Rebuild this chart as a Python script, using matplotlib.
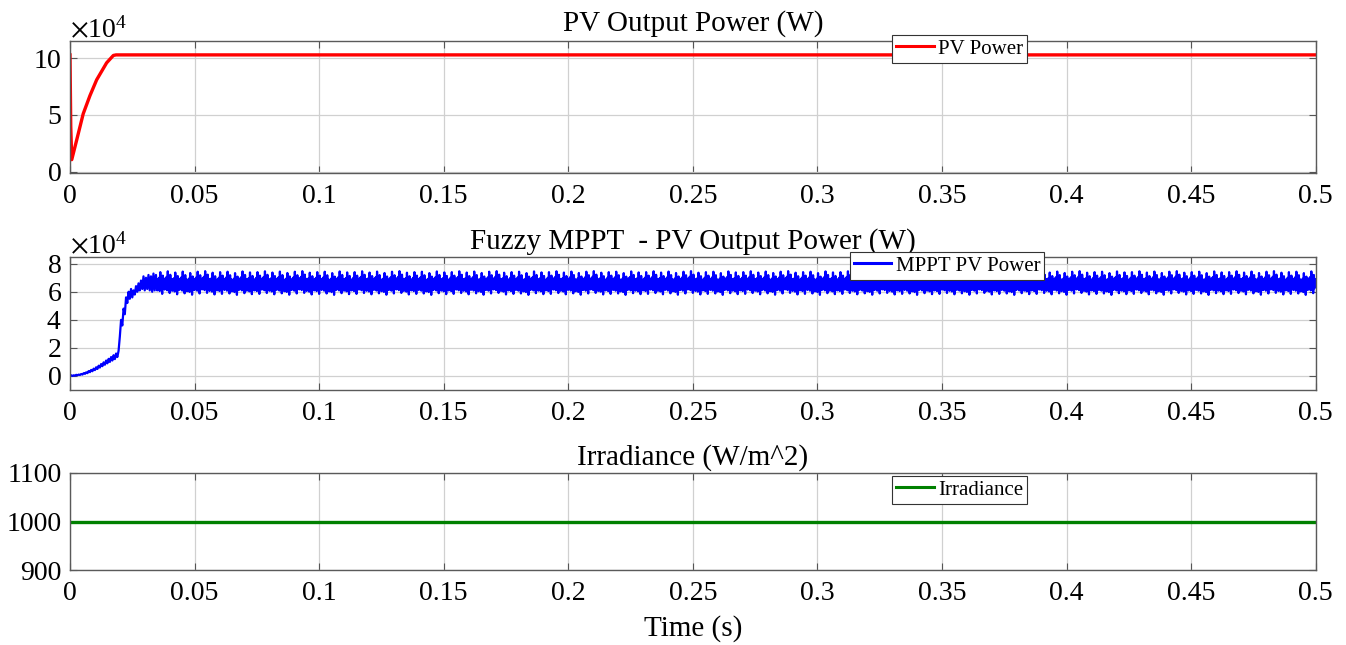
import numpy as np
import matplotlib
matplotlib.use("Agg")
import matplotlib.pyplot as plt
from matplotlib.ticker import ScalarFormatter

plt.rcParams["font.family"] = ["Liberation Serif", "DejaVu Serif"]
plt.rcParams["mathtext.fontset"] = "stix"

# ---- data ------------------------------------------------------------------
# PV output power (W), start-up transient then flat
pv_time = [0.0, 0.0003, 0.0007, 0.0027, 0.0053, 0.0080, 0.0107, 0.0147, 0.0174, 0.0185, 0.5]
pv_power = [103000, 40000, 10500, 28000, 51000, 67000, 81000, 96000, 102500, 103000, 103000]

# Fuzzy MPPT power, start-up: lower / upper edge of the ripple band each ms (W)
mppt_t0 = 0.0
mppt_dt = 0.001
mppt_low = [0, 0, 200, 500, 700, 1000, 1500, 2000, 2700, 3400, 4200, 5000,
            6000, 7000, 8000, 9000, 10000, 11000, 12000, 13500, 28000, 36000,
            44000, 52000, 55000, 56000, 58000, 60000, 61000, 62000, 61000,
            62000, 61000, 60000, 61000]
mppt_high = [500, 500, 800, 1000, 1400, 2000, 2600, 3500, 4300, 5200, 6200,
             7300, 8500, 9700, 11000, 12200, 13500, 14800, 16000, 18000, 40000,
             48000, 56000, 60000, 62000, 61000, 64000, 66000, 68000, 71000,
             70000, 72000, 71000, 73000, 72000]

# Steady state: one ripple period (3 ms, 12 samples) and period-to-period offsets (W)
ripple_t0 = 0.035
ripple_dt = 0.00025
ripple_tooth = [61000, 69000, 62000, 70000, 60500, 74000, 61500, 69500,
                58500, 71500, 62000, 68500]
ripple_offset = [0, 600, -300, 400, -600, 300, 700, -400, 0, 300,
                 -700, 500, -200]

# Irradiance (W/m^2)
irr_time = [0.0, 0.5]
irr_value = [1000, 1000]

x_ticks = [0, 0.05, 0.1, 0.15, 0.2, 0.25, 0.3, 0.35, 0.4, 0.45, 0.5]
x_labels = ["0", "0.05", "0.1", "0.15", "0.2", "0.25", "0.3", "0.35", "0.4", "0.45", "0.5"]

# ---- build the MPPT trace ----------------------------------------------------
n_start = len(mppt_low)
t_low = mppt_t0 + mppt_dt * np.arange(n_start)
t_start = np.column_stack([t_low, t_low + mppt_dt / 2]).ravel()
p_start = np.column_stack([mppt_low, mppt_high]).ravel()

n_teeth = int(round((0.5 - ripple_t0) / (len(ripple_tooth) * ripple_dt)))
offs = np.resize(ripple_offset, n_teeth)
p_ripple = (np.array(ripple_tooth)[None, :] + offs[:, None]).ravel()
t_ripple = ripple_t0 + ripple_dt * np.arange(p_ripple.size)

mppt_time = np.concatenate([t_start, t_ripple])
mppt_power = np.concatenate([p_start, p_ripple])

# ---- figure -----------------------------------------------------------------
W, H = 1346, 645
fig = plt.figure(figsize=(W / 100, H / 100), dpi=100)

def box(x0, y_top, x1, y_bot):
    return [x0 / W, 1 - y_bot / H, (x1 - x0) / W, (y_bot - y_top) / H]

ax1 = fig.add_axes(box(70, 41.3, 1315.7, 172.7))
ax2 = fig.add_axes(box(70, 256.7, 1315.7, 390.0))
ax3 = fig.add_axes(box(70, 472.7, 1315.7, 570.3))

TICK_FS = 20
TITLE_FS = 21
LEG_FS = 15

def style(ax):
    ax.set_xlim(0, 0.5)
    ax.set_xticks(x_ticks)
    ax.set_xticklabels(x_labels)
    ax.grid(True, color="#d0d0d0", linewidth=0.9)
    ax.set_axisbelow(True)
    ax.tick_params(direction="in", top=True, right=True, length=5,
                   width=0.8, colors="#555555", labelcolor="black",
                   labelsize=TICK_FS)
    ax.tick_params(axis="x", pad=8)
    ax.tick_params(axis="y", pad=6)
    for s in ax.spines.values():
        s.set_color("#5a5a5a")
        s.set_linewidth(1.0)

def sci(ax):
    fmt = ScalarFormatter(useMathText=True)
    fmt.set_powerlimits((4, 4))
    ax.yaxis.set_major_formatter(fmt)
    ax.yaxis.get_offset_text().set_fontsize(TICK_FS)

def legend(ax, anchor):
    leg = ax.legend(loc="upper left", bbox_to_anchor=anchor, fontsize=LEG_FS,
                    fancybox=False, framealpha=1, edgecolor="#333333",
                    handlelength=1.8, handletextpad=0.2, borderpad=0.2,
                    borderaxespad=0)
    leg.get_frame().set_linewidth(0.8)
    for h in leg.get_lines():
        h.set_linewidth(2.2)

# PV power
ax1.plot(pv_time, pv_power, color="#ff0000", linewidth=2.4, label="PV Power")
style(ax1)
ax1.set_ylim(-1000, 115000)
ax1.set_yticks([0, 50000, 100000])
sci(ax1)
ax1.set_title("PV Output Power (W)", fontsize=TITLE_FS, pad=8)
legend(ax1, (0.66, 1.048))

# Fuzzy MPPT power
ax2.plot(mppt_time, mppt_power, color="#0000ff", linewidth=1.6,
         label="MPPT PV Power")
style(ax2)
ax2.set_ylim(-10000, 85000)
ax2.set_yticks([0, 20000, 40000, 60000, 80000])
sci(ax2)
ax2.set_title("Fuzzy MPPT  - PV Output Power (W)", fontsize=TITLE_FS, pad=6)
legend(ax2, (0.626, 1.035))

# Irradiance
ax3.plot(irr_time, irr_value, color="#008000", linewidth=2.4, label="Irradiance")
style(ax3)
ax3.set_ylim(900, 1100)
ax3.set_yticks([900, 1000, 1100])
ax3.set_title("Irradiance (W/m^2)", fontsize=TITLE_FS, pad=6)
ax3.set_xlabel("Time (s)", fontsize=TITLE_FS, labelpad=6)
legend(ax3, (0.66, 0.966))

fig.savefig("out.png", dpi=100, facecolor="white")
